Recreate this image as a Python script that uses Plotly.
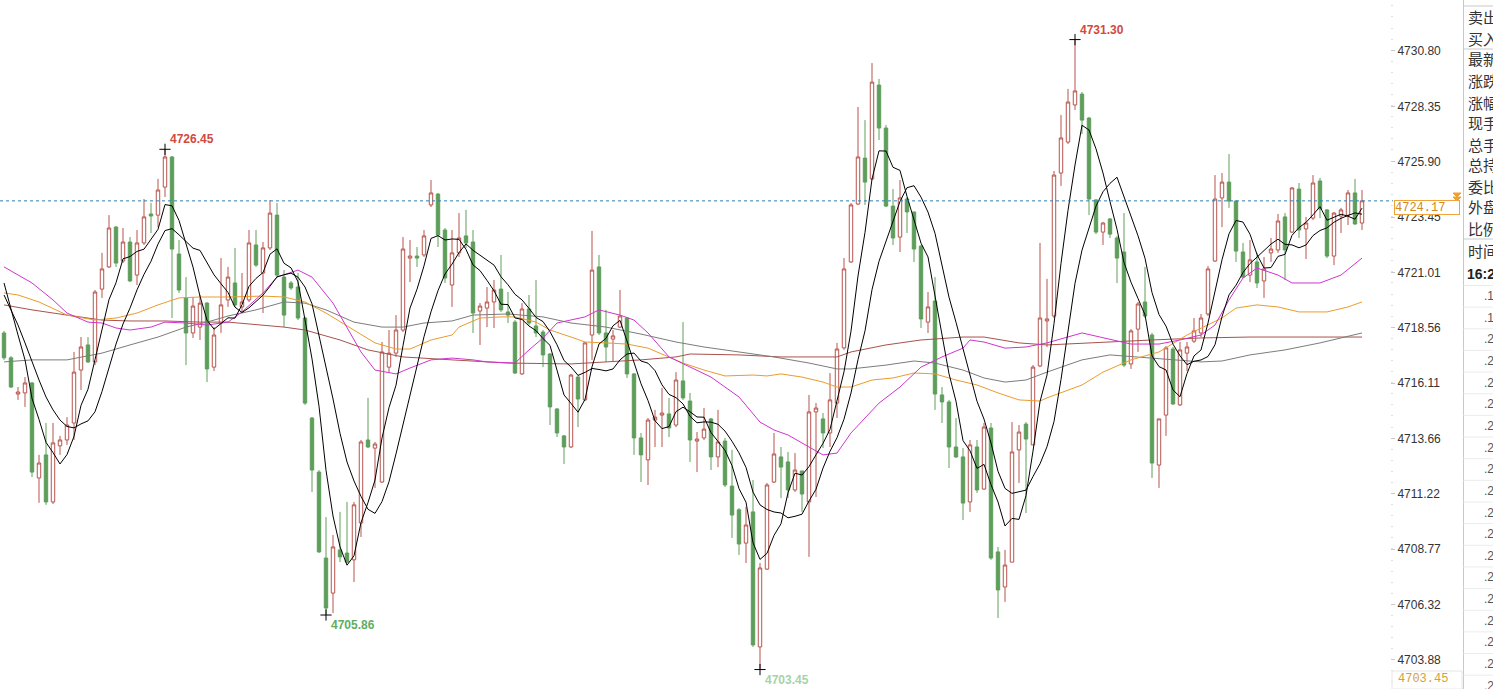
import plotly.graph_objects as go
import pandas as pd

W, H = 1493, 689

# ---------------- candle data ----------------
opens = [4718.33, 4717.23, 4715.63, 4715.68, 4716.12, 4711.92, 4712.94, 4710.86, 4713.34, 4713.60,
         4714.35, 4716.69, 4717.80, 4717.05, 4720.27, 4721.25, 4723.01, 4721.51, 4722.35, 4720.89,
         4722.31, 4723.59, 4723.54, 4724.78, 4726.11, 4721.82, 4719.88, 4718.33, 4718.59, 4719.65,
         4716.82, 4718.77, 4719.79, 4720.54, 4719.48, 4719.79, 4722.22, 4720.98, 4722.09, 4723.54,
         4720.80, 4720.54, 4720.36, 4718.99, 4714.57, 4712.18, 4708.38, 4706.83, 4708.74, 4708.60,
         4708.30, 4709.93, 4713.60, 4713.24, 4711.74, 4716.82, 4717.44, 4718.46, 4721.64, 4721.73,
         4721.78, 4723.99, 4724.47, 4722.88, 4720.45, 4721.87, 4722.62, 4722.35, 4719.30, 4719.43,
         4719.70, 4720.27, 4719.26, 4718.81, 4716.52, 4719.39, 4718.64, 4718.37, 4717.40, 4714.97,
         4713.78, 4713.29, 4716.38, 4715.37, 4718.24, 4721.25, 4718.33, 4718.06, 4718.59, 4718.99,
         4716.52, 4713.69, 4712.72, 4714.48, 4714.70, 4714.75, 4714.26, 4716.21, 4715.32, 4713.55,
         4713.69, 4714.53, 4712.85, 4713.55, 4711.56, 4710.51, 4709.04, 4710.42, 4704.45, 4707.89,
         4711.74, 4712.85, 4712.63, 4711.39, 4712.23, 4710.86, 4714.84, 4714.53, 4713.91, 4715.23,
         4717.67, 4721.47, 4724.03, 4726.06, 4725.14, 4729.29, 4727.39, 4723.94, 4722.57, 4724.25,
         4723.68, 4722.17, 4718.81, 4719.74, 4715.59, 4715.28, 4713.29, 4712.85, 4710.86, 4713.29,
         4711.43, 4714.13, 4708.65, 4707.10, 4708.20, 4713.16, 4714.30, 4713.38, 4716.87, 4718.86,
         4719.08, 4725.40, 4726.77, 4728.41, 4728.89, 4727.83, 4724.21, 4722.79, 4723.37, 4722.53,
         4721.91, 4716.96, 4718.50, 4719.70, 4718.24, 4712.49, 4714.70, 4717.62, 4715.15, 4717.44,
         4717.97, 4718.33, 4719.17, 4721.51, 4724.30, 4725.00, 4724.16, 4721.91, 4720.89, 4721.47,
         4720.63, 4721.87, 4722.00, 4723.46, 4722.79, 4724.69, 4722.93, 4723.41, 4725.05, 4723.77,
         4721.73, 4723.50, 4723.54, 4724.52, 4723.19]
highs = [4718.42, 4717.31, 4715.94, 4716.38, 4716.16, 4712.94, 4714.35, 4714.35, 4713.78, 4714.61,
         4717.49, 4718.15, 4718.15, 4720.23, 4721.87, 4723.54, 4723.06, 4722.97, 4722.57, 4722.88,
         4724.25, 4724.08, 4725.14, 4726.45, 4726.15, 4722.44, 4720.80, 4719.92, 4720.01, 4719.70,
         4718.59, 4721.64, 4721.25, 4722.09, 4720.98, 4722.88, 4722.88, 4722.35, 4724.21, 4724.08,
         4721.11, 4720.63, 4720.98, 4719.04, 4714.61, 4712.27, 4710.19, 4709.40, 4710.42, 4710.86,
         4710.86, 4713.60, 4715.46, 4713.51, 4717.93, 4718.46, 4719.12, 4722.57, 4722.44, 4722.13,
         4722.88, 4725.09, 4724.52, 4722.97, 4722.88, 4723.63, 4723.77, 4722.88, 4719.65, 4720.36,
         4720.67, 4721.78, 4720.14, 4718.90, 4719.65, 4720.01, 4720.67, 4718.46, 4717.44, 4715.01,
         4713.82, 4716.52, 4716.47, 4717.93, 4722.84, 4721.78, 4719.35, 4718.46, 4720.23, 4719.04,
         4716.56, 4713.91, 4714.57, 4714.93, 4715.90, 4715.46, 4716.60, 4718.81, 4715.68, 4713.95,
         4715.01, 4714.57, 4714.93, 4713.69, 4713.16, 4710.59, 4710.64, 4711.83, 4708.16, 4711.70,
         4713.91, 4713.29, 4713.07, 4713.02, 4712.23, 4715.59, 4715.23, 4714.79, 4716.56, 4717.89,
         4721.64, 4724.08, 4728.32, 4727.74, 4730.26, 4729.56, 4727.52, 4724.69, 4725.09, 4724.34,
         4723.68, 4722.22, 4720.14, 4720.80, 4715.94, 4715.37, 4714.57, 4713.24, 4713.60, 4713.60,
         4714.35, 4714.35, 4708.87, 4708.74, 4714.39, 4714.26, 4714.39, 4716.91, 4722.31, 4720.72,
         4725.49, 4727.97, 4729.12, 4731.30, 4728.98, 4727.88, 4724.25, 4723.24, 4723.41, 4722.62,
         4723.63, 4718.50, 4719.70, 4721.25, 4718.33, 4714.53, 4717.75, 4717.71, 4717.93, 4717.93,
         4718.99, 4719.17, 4721.29, 4725.31, 4725.40, 4726.24, 4724.21, 4722.31, 4722.44, 4721.87,
         4721.69, 4722.53, 4723.59, 4723.63, 4724.78, 4724.96, 4723.46, 4725.31, 4725.18, 4723.81,
         4723.68, 4723.86, 4724.65, 4725.14, 4724.65]
lows = [4717.14, 4715.90, 4715.37, 4715.06, 4711.96, 4710.82, 4710.73, 4710.77, 4712.94, 4713.38,
        4713.60, 4715.81, 4717.00, 4716.91, 4719.88, 4721.20, 4721.25, 4721.42, 4720.58, 4720.45,
        4722.22, 4722.75, 4723.01, 4724.34, 4718.99, 4720.10, 4716.91, 4718.11, 4718.02, 4716.16,
        4716.65, 4718.33, 4719.48, 4719.48, 4719.21, 4719.70, 4721.25, 4719.21, 4722.00, 4720.80,
        4718.59, 4720.23, 4718.90, 4715.15, 4711.30, 4708.60, 4705.86, 4705.95, 4708.20, 4708.16,
        4707.32, 4709.31, 4713.24, 4711.48, 4711.70, 4716.56, 4717.27, 4718.37, 4720.58, 4721.25,
        4721.69, 4723.90, 4722.13, 4720.54, 4719.48, 4721.69, 4722.09, 4718.33, 4717.80, 4718.59,
        4718.55, 4719.26, 4718.77, 4716.52, 4716.47, 4718.68, 4718.15, 4716.82, 4714.26, 4713.73,
        4712.54, 4713.24, 4714.17, 4715.32, 4717.14, 4718.24, 4717.05, 4717.05, 4718.55, 4716.34,
        4712.94, 4711.74, 4711.61, 4713.29, 4713.29, 4713.73, 4714.17, 4715.37, 4712.63, 4712.18,
        4713.60, 4712.27, 4712.40, 4711.52, 4709.27, 4708.52, 4708.16, 4704.45, 4703.45, 4707.85,
        4711.70, 4711.03, 4711.03, 4711.30, 4710.42, 4708.43, 4711.08, 4713.24, 4713.29, 4714.57,
        4717.58, 4721.42, 4723.99, 4723.99, 4725.09, 4726.86, 4723.90, 4722.22, 4721.91, 4722.75,
        4721.47, 4718.55, 4718.33, 4714.93, 4714.35, 4712.36, 4712.80, 4710.06, 4710.42, 4711.26,
        4711.39, 4708.30, 4705.73, 4706.44, 4708.20, 4711.70, 4710.37, 4713.38, 4716.82, 4717.71,
        4718.99, 4724.83, 4726.68, 4728.19, 4727.13, 4723.54, 4722.70, 4722.22, 4722.53, 4720.54,
        4716.82, 4716.74, 4717.49, 4718.99, 4711.92, 4711.48, 4713.78, 4715.15, 4715.10, 4716.65,
        4717.89, 4718.15, 4719.08, 4721.47, 4723.01, 4723.86, 4721.47, 4720.76, 4720.58, 4720.32,
        4719.88, 4721.47, 4721.87, 4720.67, 4722.75, 4722.53, 4721.60, 4723.32, 4723.41, 4721.64,
        4721.33, 4722.75, 4723.10, 4723.10, 4722.88]
closes = [4717.23, 4715.94, 4715.72, 4716.12, 4712.18, 4712.58, 4710.86, 4713.47, 4713.60, 4714.26,
          4716.60, 4717.71, 4717.05, 4720.14, 4721.16, 4722.97, 4721.42, 4722.35, 4720.63, 4722.31,
          4723.46, 4723.50, 4724.65, 4726.11, 4722.04, 4720.23, 4718.33, 4719.52, 4719.65, 4716.74,
          4718.24, 4719.57, 4720.80, 4719.57, 4719.70, 4722.31, 4721.33, 4722.09, 4723.63, 4720.89,
          4719.12, 4720.32, 4718.99, 4715.23, 4712.27, 4708.65, 4706.17, 4708.87, 4708.43, 4708.20,
          4710.73, 4713.51, 4713.29, 4713.42, 4717.49, 4717.44, 4718.46, 4722.04, 4721.73, 4721.64,
          4722.62, 4724.52, 4722.66, 4720.76, 4721.87, 4722.53, 4722.31, 4719.21, 4719.52, 4719.70,
          4720.23, 4719.35, 4719.12, 4716.56, 4719.39, 4718.77, 4718.33, 4717.36, 4715.06, 4713.91,
          4713.29, 4716.47, 4715.41, 4717.89, 4721.11, 4718.33, 4717.71, 4718.20, 4719.08, 4716.52,
          4713.69, 4712.94, 4714.48, 4714.61, 4714.79, 4714.13, 4716.25, 4715.46, 4713.60, 4713.64,
          4714.08, 4712.85, 4713.51, 4711.61, 4710.28, 4709.00, 4709.84, 4704.54, 4707.94, 4711.61,
          4712.98, 4712.40, 4711.39, 4712.27, 4711.21, 4714.84, 4715.01, 4713.91, 4715.37, 4717.62,
          4721.16, 4723.99, 4726.11, 4725.00, 4729.42, 4727.39, 4723.94, 4722.53, 4724.30, 4723.68,
          4722.04, 4718.95, 4719.48, 4715.63, 4715.28, 4713.29, 4712.85, 4710.81, 4713.38, 4711.39,
          4714.17, 4708.38, 4706.97, 4708.07, 4713.07, 4713.95, 4713.64, 4716.82, 4718.99, 4718.95,
          4725.31, 4726.95, 4728.54, 4729.03, 4727.74, 4724.25, 4722.79, 4723.19, 4722.70, 4721.64,
          4716.91, 4718.42, 4719.61, 4719.08, 4712.58, 4714.53, 4717.67, 4715.19, 4717.58, 4717.71,
          4718.42, 4718.99, 4721.16, 4724.25, 4725.00, 4724.16, 4721.95, 4720.80, 4721.56, 4720.54,
          4721.16, 4722.04, 4723.28, 4722.00, 4724.74, 4722.88, 4723.19, 4724.96, 4723.81, 4721.73,
          4723.63, 4723.77, 4724.52, 4723.15, 4724.17]
idx = list(range(len(closes)))

# values of the two black averages before a full window is available
ma5_head = [4720.54, 4719.35, 4718.24, 4717.14]
ma10_head = [4720.01, 4719.35, 4718.68, 4717.89, 4717.05, 4716.25, 4715.50, 4714.93, 4714.48]

# slower average lines, read at sample candles
mag_i = [0, 2, 4, 7, 9, 12, 14, 16, 18, 21, 23, 26, 29, 32, 34, 37, 39, 42, 44, 47, 49, 51, 53, 56,
         58, 61, 64, 67, 69, 73, 75, 77, 79, 83, 85, 88, 90, 92, 95, 101, 105, 108, 110, 112, 115,
         117, 119, 121, 125, 128, 131, 134, 137, 138, 140, 143, 146, 149, 154, 157, 161, 165, 168,
         171, 173, 175, 177, 179, 182, 184, 188, 191, 194]
mag_v = [4721.25, 4720.89, 4720.54, 4719.79, 4719.21, 4718.81, 4718.77, 4718.55, 4718.46, 4718.59,
         4718.81, 4718.77, 4718.68, 4718.81, 4719.26, 4720.10, 4720.80, 4721.11, 4720.80, 4719.65,
         4718.59, 4717.49, 4716.69, 4716.52, 4716.78, 4717.14, 4717.22, 4717.14, 4717.05, 4717.00,
         4717.58, 4718.11, 4718.77, 4719.04, 4719.35, 4719.12, 4718.90, 4718.33, 4717.27, 4716.38,
         4715.50, 4714.39, 4714.04, 4713.82, 4713.29, 4712.94, 4713.02, 4713.91, 4715.23, 4715.94,
         4716.82, 4717.27, 4717.66, 4718.02, 4717.93, 4717.66, 4717.71, 4717.89, 4718.33, 4718.11,
         4717.84, 4717.84, 4718.02, 4718.24, 4718.68, 4719.79, 4720.76, 4721.20, 4720.89, 4720.54,
         4720.54, 4720.89, 4721.64]
org_i = [0, 2, 5, 9, 13, 16, 19, 22, 25, 28, 32, 37, 40, 43, 46, 50, 53, 56, 58, 61, 64, 65, 68, 71,
         73, 76, 78, 81, 83, 86, 89, 92, 95, 97, 100, 103, 107, 109, 111, 114, 117, 119, 121, 124,
         127, 130, 133, 136, 139, 142, 145, 148, 149, 154, 157, 161, 165, 169, 174, 176, 179, 182,
         185, 189, 192, 194]
org_v = [4720.10, 4720.01, 4719.70, 4719.12, 4718.90, 4718.99, 4719.21, 4719.57, 4719.88, 4719.92,
         4719.92, 4719.96, 4719.92, 4719.70, 4719.21, 4718.46, 4717.89, 4717.62, 4717.62, 4718.02,
         4718.24, 4718.59, 4718.99, 4719.04, 4719.04, 4718.81, 4718.46, 4718.15, 4717.93, 4717.89,
         4717.84, 4717.66, 4717.27, 4717.00, 4716.69, 4716.43, 4716.47, 4716.43, 4716.52, 4716.38,
         4716.16, 4715.94, 4715.94, 4716.25, 4716.34, 4716.56, 4716.52, 4716.25, 4716.03, 4715.68,
         4715.37, 4715.32, 4715.46, 4716.03, 4716.60, 4717.14, 4717.49, 4718.24, 4718.99, 4719.43,
         4719.57, 4719.48, 4719.26, 4719.26, 4719.48, 4719.70]
gry_i = [0, 4, 9, 14, 18, 22, 26, 29, 32, 36, 40, 43, 46, 50, 54, 57, 60, 64, 67, 72, 77, 81, 86,
         91, 96, 100, 105, 110, 115, 119, 121, 126, 130, 133, 137, 140, 143, 146, 149, 154, 158, 162,
         167, 171, 174, 178, 183, 188, 194]
gry_v = [4717.05, 4717.14, 4717.14, 4717.44, 4717.80, 4718.15, 4718.59, 4718.81, 4719.08, 4719.35,
         4719.70, 4719.65, 4719.35, 4718.81, 4718.59, 4718.59, 4718.77, 4718.86, 4719.12, 4719.17,
         4719.04, 4718.77, 4718.59, 4718.28, 4717.93, 4717.71, 4717.49, 4717.27, 4717.00, 4716.74,
         4716.74, 4716.91, 4717.09, 4717.00, 4716.69, 4716.34, 4716.16, 4716.25, 4716.60, 4717.14,
         4717.36, 4717.27, 4717.14, 4717.05, 4717.09, 4717.36, 4717.58, 4717.89, 4718.33]
brn_i = [0, 4, 9, 14, 18, 23, 28, 32, 40, 43, 48, 52, 57, 61, 64, 72, 81, 91, 96, 98, 105, 111,
         119, 121, 126, 131, 137, 140, 145, 149, 157, 164, 171, 178, 185, 194]
brn_v = [4719.57, 4719.35, 4719.12, 4718.90, 4718.86, 4718.86, 4718.81, 4718.81, 4718.59, 4718.46,
         4718.02, 4717.58, 4717.27, 4717.18, 4717.14, 4717.00, 4716.96, 4717.14, 4717.27, 4717.40,
         4717.36, 4717.27, 4717.27, 4717.49, 4717.80, 4718.02, 4718.15, 4718.15, 4717.89, 4717.80,
         4717.93, 4718.02, 4718.11, 4718.15, 4718.15, 4718.15]

# marked extremes: candle index and which side
mark_idx = [23, 153, 46, 108]
mark_side = ["high", "high", "low", "low"]

ytick_vals = [4703.88, 4706.32, 4708.77, 4711.22, 4713.66, 4716.11, 4718.56, 4721.01,
              4723.45, 4725.90, 4728.35, 4730.80]
ytick_text = [f"{v:.2f}" for v in ytick_vals]

panel_labels = ["卖出", "买入", "最新", "涨跌", "涨幅", "现手", "总手", "总持", "委比", "外盘", "比例", "时间"]
time_text = "16:2"
row_texts = [".1", ".1"] + [".2"] * 17

# ---------------- styling ----------------
RED = "#b9544d"
GREEN = "#5e9e5b"
Y_RANGE = [4702.59, 4733.05]
X_RANGE = [-0.571, 198.0]
PLOT_RIGHT = 1390


def px(x):
    return x / W


def py(y):
    return 1 - y / H


closes_s = pd.Series(closes)
ma5 = closes_s.rolling(5).mean()
ma5.iloc[:len(ma5_head)] = ma5_head
ma10 = closes_s.rolling(10).mean()
ma10.iloc[:len(ma10_head)] = ma10_head

fig = go.Figure()
fig.add_trace(go.Candlestick(
    x=idx, open=opens, high=highs, low=lows, close=closes,
    increasing=dict(line=dict(color=RED, width=1), fillcolor="#ffffff"),
    decreasing=dict(line=dict(color=GREEN, width=1), fillcolor=GREEN),
    whiskerwidth=0, showlegend=False, hoverinfo="skip"))

for xs, ys, col in [(brn_i, brn_v, "#a8524c"), (gry_i, gry_v, "#7c7c7c"),
                    (org_i, org_v, "#eb9c2c"), (mag_i, mag_v, "#cf35cf")]:
    fig.add_trace(go.Scatter(x=xs, y=ys, mode="lines", line=dict(color=col, width=1),
                             showlegend=False, hoverinfo="skip"))
for ser in (ma10, ma5):
    fig.add_trace(go.Scatter(x=idx, y=ser.round(3).tolist(), mode="lines",
                             line=dict(color="#000000", width=1),
                             showlegend=False, hoverinfo="skip"))

mark_y = [highs[i] if s == "high" else lows[i] for i, s in zip(mark_idx, mark_side)]
fig.add_trace(go.Scatter(x=mark_idx, y=mark_y, mode="markers",
                         marker=dict(symbol="cross-thin", size=8,
                                     line=dict(color="#000000", width=1)),
                         showlegend=False, hoverinfo="skip"))

annotations = []
for i, s, v in zip(mark_idx, mark_side, mark_y):
    up = s == "high"
    annotations.append(dict(
        x=i, y=v, xref="x", yref="y", text=f"<b>{v:.2f}</b>", showarrow=False,
        xanchor="left", yanchor="bottom" if up else "top", xshift=3, yshift=1 if up else -1,
        font=dict(family="Liberation Sans, Arial", size=12,
                  color="#d24a3c" if up else "#5fae5f"),
        opacity=1 if v > 4704 or up else 0.55))

last_price = closes[-1]
# current price box on the axis
annotations.append(dict(
    x=px(1394), y=py(208), xref="paper", yref="paper", text=f"{last_price:.2f}",
    showarrow=False, xanchor="left", yanchor="middle", align="left",
    font=dict(family="Liberation Mono, Courier New, monospace", size=12, color="#cf8a20"),
    bgcolor="#ffffff", bordercolor="#f0a33a", borderwidth=1, borderpad=0,
    width=64, height=13))
annotations.append(dict(
    x=px(1396), y=py(679), xref="paper", yref="paper", text=f"{min(lows):.2f}",
    showarrow=False, xanchor="left", yanchor="middle", align="left",
    font=dict(family="Liberation Mono, Courier New, monospace", size=12, color="#d1a23a")))

# right information panel
panel_y = [17, 38, 59, 81, 102, 123, 144, 165, 186, 207, 228, 250]
for t, yy in zip(panel_labels, panel_y):
    annotations.append(dict(x=px(1466), y=py(yy), xref="paper", yref="paper", text=t,
                            showarrow=False, xanchor="left", yanchor="middle",
                            font=dict(family="Noto Sans CJK SC", size=15, color="#333333")))
annotations.append(dict(x=px(1465), y=py(274), xref="paper", yref="paper",
                        text=f"<b>{time_text}</b>", showarrow=False, xanchor="left",
                        yanchor="middle",
                        font=dict(family="Liberation Sans, Arial", size=14, color="#222222")))
for k, t in enumerate(row_texts):
    annotations.append(dict(x=px(1482), y=py(296 + 21.65 * k), xref="paper", yref="paper",
                            text=t, showarrow=False, xanchor="left", yanchor="middle",
                            font=dict(family="Liberation Sans, Arial", size=12,
                                      color="#555555")))

shapes = [
    dict(type="line", xref="paper", yref="y", x0=0, x1=px(1393), y0=last_price,
         y1=last_price, line=dict(color="#2f7db3", width=1, dash="3px,3px")),
    dict(type="line", xref="paper", yref="paper", x0=px(1463.5), x1=px(1463.5), y0=0, y1=1,
         line=dict(color="#c9c9c9", width=1)),
    dict(type="path", xref="paper", yref="paper", fillcolor="#f0a030",
         line=dict(color="#f0a030", width=1),
         path=(f"M {px(1453)},{py(193)} L {px(1461)},{py(193)} L {px(1457)},{py(197)} Z "
               f"M {px(1453)},{py(197)} L {px(1461)},{py(197)} L {px(1457)},{py(201)} Z")),
    dict(type="rect", xref="paper", yref="paper", x0=px(1392), x1=px(1462), y0=py(689),
         y1=py(671), line=dict(color="#e6e6e6", width=1)),
]
for yy in (6, 49, 239):
    shapes.append(dict(type="line", xref="paper", yref="paper", x0=px(1463.5), x1=1,
                       y0=py(yy), y1=py(yy), line=dict(color="#c9c9c9", width=1)))
for k in range(19):
    yy = 285.5 + 21.65 * k
    shapes.append(dict(type="line", xref="paper", yref="paper", x0=px(1463.5), x1=1,
                       y0=py(yy), y1=py(yy), line=dict(color="#ececec", width=1)))

fig.update_layout(
    width=W, height=H, margin=dict(l=0, r=0, t=0, b=0),
    paper_bgcolor="#ffffff", plot_bgcolor="#ffffff",
    showlegend=False, hovermode=False,
    xaxis=dict(domain=[0, PLOT_RIGHT / W], range=X_RANGE, visible=False,
               rangeslider=dict(visible=False), fixedrange=True),
    yaxis=dict(range=Y_RANGE, side="right", showgrid=False, zeroline=False, showline=False,
               tickvals=ytick_vals, ticktext=ytick_text, ticks="outside", ticklen=4,
               tickcolor="#c8c8c8",
               minor=dict(ticks="outside", ticklen=2, tickcolor="#e0e0e0",
                          tick0=4703.88, dtick=0.49),
               tickfont=dict(family="Liberation Sans, Arial", size=12, color="#333333"),
               fixedrange=True),
    annotations=annotations, shapes=shapes,
)

fig.write_html("out.html", config={"displayModeBar": False},
               post_script="document.body.style.margin='0';")
